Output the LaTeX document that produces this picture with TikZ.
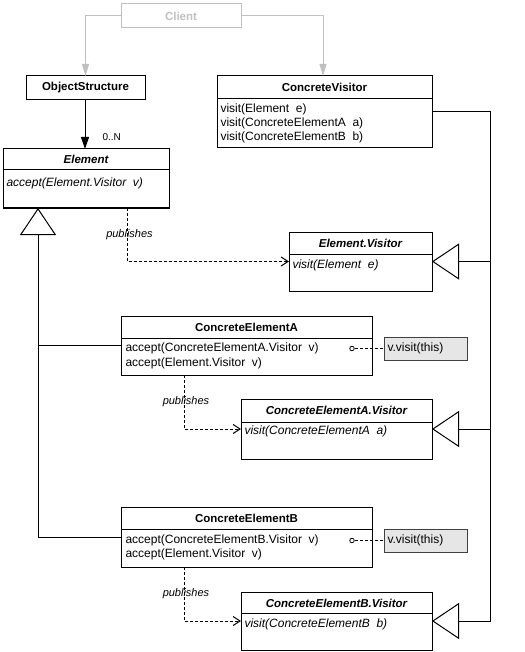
\documentclass[tikz,border=0pt]{standalone}
\usepackage{fontspec}
\setmainfont{Liberation Sans}
\usetikzlibrary{arrows.meta,calc}
\definecolor{lgray}{RGB}{192,192,192}
\definecolor{notefill}{RGB}{230,230,230}
\definecolor{noteline}{RGB}{64,64,64}
\begin{document}
\begin{tikzpicture}[x=1pt,y=-1pt,line width=1pt,
  box/.style={draw,rectangle,anchor=north west,inner sep=0pt,outer sep=0pt},
  ttl/.style={font=\fontsize{11.5}{13}\selectfont\bfseries,inner sep=0pt},
  ttli/.style={font=\fontsize{11.5}{13}\selectfont\bfseries\itshape,inner sep=0pt},
  meth/.style={font=\fontsize{12}{13}\selectfont,anchor=west,inner sep=0pt},
  methi/.style={font=\fontsize{12}{13}\selectfont\itshape,anchor=west,inner sep=0pt},
  pub/.style={font=\fontsize{11}{13}\selectfont\itshape,inner sep=0pt},
  note/.style={draw=noteline,fill=notefill,rectangle,anchor=north west,inner sep=0pt,outer sep=0pt},
  inh/.style={-{Triangle[open,width=36pt,length=27pt]}},
  dep/.style={dashed,dash pattern=on 3pt off 2pt,-{Straight Barb[length=7pt,width=9pt]}},
  nav/.style={-{Triangle[width=8pt,length=12pt]}},
  sep/.style={draw},
]
\useasboundingbox (0,0) rectangle (524,652);

% Client
\node[box,draw=lgray,minimum width=120pt,minimum height=24pt] (client) at (121,4) {};
\node[ttl,text=lgray] (clientT) at (181,16) {Client};

% ObjectStructure
\node[box,minimum width=119pt,minimum height=24pt] (os) at (26,76) {};
\node[ttl] (osT) at (85.5,88) {ObjectStructure};

% ConcreteVisitor
\node[box,minimum width=215pt,minimum height=72pt] (cv) at (217,76) {};
\draw (cv.north west) ++(0,23) -- ++(215,0);
\node[ttl] (cvT) at (324.5,87.5) {ConcreteVisitor};
\node[meth] (cv1) at (220,109) {visit(Element\ \ e)};
\node[meth] (cv2) at (220,123) {visit(ConcreteElementA\ \ a)};
\node[meth] (cv3) at (220,137) {visit(ConcreteElementB\ \ b)};

% Element
\node[box,minimum width=166pt,minimum height=59pt] (el) at (3,149) {};
\draw (el.north west) ++(0,21) -- ++(166,0);
\node[ttli] (elT) at (86,159.5) {Element};
\node[methi] (el1) at (6,183) {accept(Element.Visitor\ \ v)};

% Element.Visitor
\node[box,minimum width=143pt,minimum height=59pt] (ev) at (289,232) {};
\draw (ev.north west) ++(0,22) -- ++(143,0);
\node[ttli] (evT) at (360.5,243) {Element.Visitor};
\node[methi] (ev1) at (292,265) {visit(Element\ \ e)};

% ConcreteElementA
\node[box,minimum width=251pt,minimum height=59pt] (cea) at (121,316) {};
\draw (cea.north west) ++(0,22) -- ++(251,0);
\node[ttl] (ceaT) at (246.5,327) {ConcreteElementA};
\node[meth] (cea1) at (125,348.5) {accept(ConcreteElementA.Visitor\ \ v)};
\node[meth] (cea2) at (125,363) {accept(Element.Visitor\ \ v)};
\node[note,minimum width=83pt,minimum height=23pt] (nA) at (384,337) {};
\node[meth] (nAT) at (387,348.5) {v.visit(this)};
\node[draw,circle,minimum size=4.5pt,inner sep=0pt,line width=0.8pt] (cA) at (352,348.5) {};
\draw[dashed,dash pattern=on 3pt off 2pt] (cA) -- (nA.west);

% ConcreteElementA.Visitor
\node[box,minimum width=191pt,minimum height=60pt] (ceav) at (241,399) {};
\draw (ceav.north west) ++(0,23) -- ++(191,0);
\node[ttli] (ceavT) at (336.5,410) {ConcreteElementA.Visitor};
\node[methi] (ceav1) at (244,431) {visit(ConcreteElementA\ \ a)};

% ConcreteElementB
\node[box,minimum width=251pt,minimum height=60pt] (ceb) at (121,507) {};
\draw (ceb.north west) ++(0,22) -- ++(251,0);
\node[ttl] (cebT) at (246.5,518) {ConcreteElementB};
\node[meth] (ceb1) at (125,540) {accept(ConcreteElementB.Visitor\ \ v)};
\node[meth] (ceb2) at (125,554) {accept(Element.Visitor\ \ v)};
\node[note,minimum width=83pt,minimum height=23pt] (nB) at (384,529) {};
\node[meth] (nBT) at (387,540.5) {v.visit(this)};
\node[draw,circle,minimum size=4.5pt,inner sep=0pt,line width=0.8pt] (cB) at (352,540.5) {};
\draw[dashed,dash pattern=on 3pt off 2pt] (cB) -- (nB.west);

% ConcreteElementB.Visitor
\node[box,minimum width=191pt,minimum height=58pt] (cebv) at (241,592) {};
\draw (cebv.north west) ++(0,21) -- ++(191,0);
\node[ttli] (cebvT) at (336.5,603) {ConcreteElementB.Visitor};
\node[methi] (cebv1) at (244,624) {visit(ConcreteElementB\ \ b)};

% Client connectors
\draw[lgray,-{Triangle[width=7pt,length=12pt]}] (client.west) -| (os.north);
\draw[lgray,-{Triangle[width=7pt,length=12pt]}] (client.east) -| ($(cv.north west)+(106,0)$);

% ObjectStructure -> Element
\draw[nav] ($(os.south west)+(59,0)$) -- ($(el.north west)+(82,0)$);
\node[font=\fontsize{10}{12}\selectfont,anchor=west,inner sep=0pt] (mult) at (102,137) {0..N};

% Generalization to Element
\coordinate (gx) at (38,208);
\draw[inh] (ceb.west) -| (gx);
\draw (cea.west) -- (cea.west -| gx);

% Generalization to visitors
\coordinate (rx) at (490,112);
\draw[inh] (cv.east) -| (rx |- cebv.east) -- (cebv.east);
\draw[inh] (rx |- ev.east) -- (ev.east);
\draw[inh] (rx |- ceav.east) -- (ceav.east);

% publishes dependencies
\draw[dep] (el.south west) ++(124,0) |- (ev.west);
\node[pub] (p1) at (129.5,234.5) {publishes};
\draw[dep] (cea.south west) ++(63,0) |- (ceav.west);
\node[pub] (p2) at (186,401.5) {publishes};
\draw[dep] (ceb.south west) ++(63,0) |- (cebv.west);
\node[pub] (p3) at (186,593.5) {publishes};
\end{tikzpicture}
\end{document}
